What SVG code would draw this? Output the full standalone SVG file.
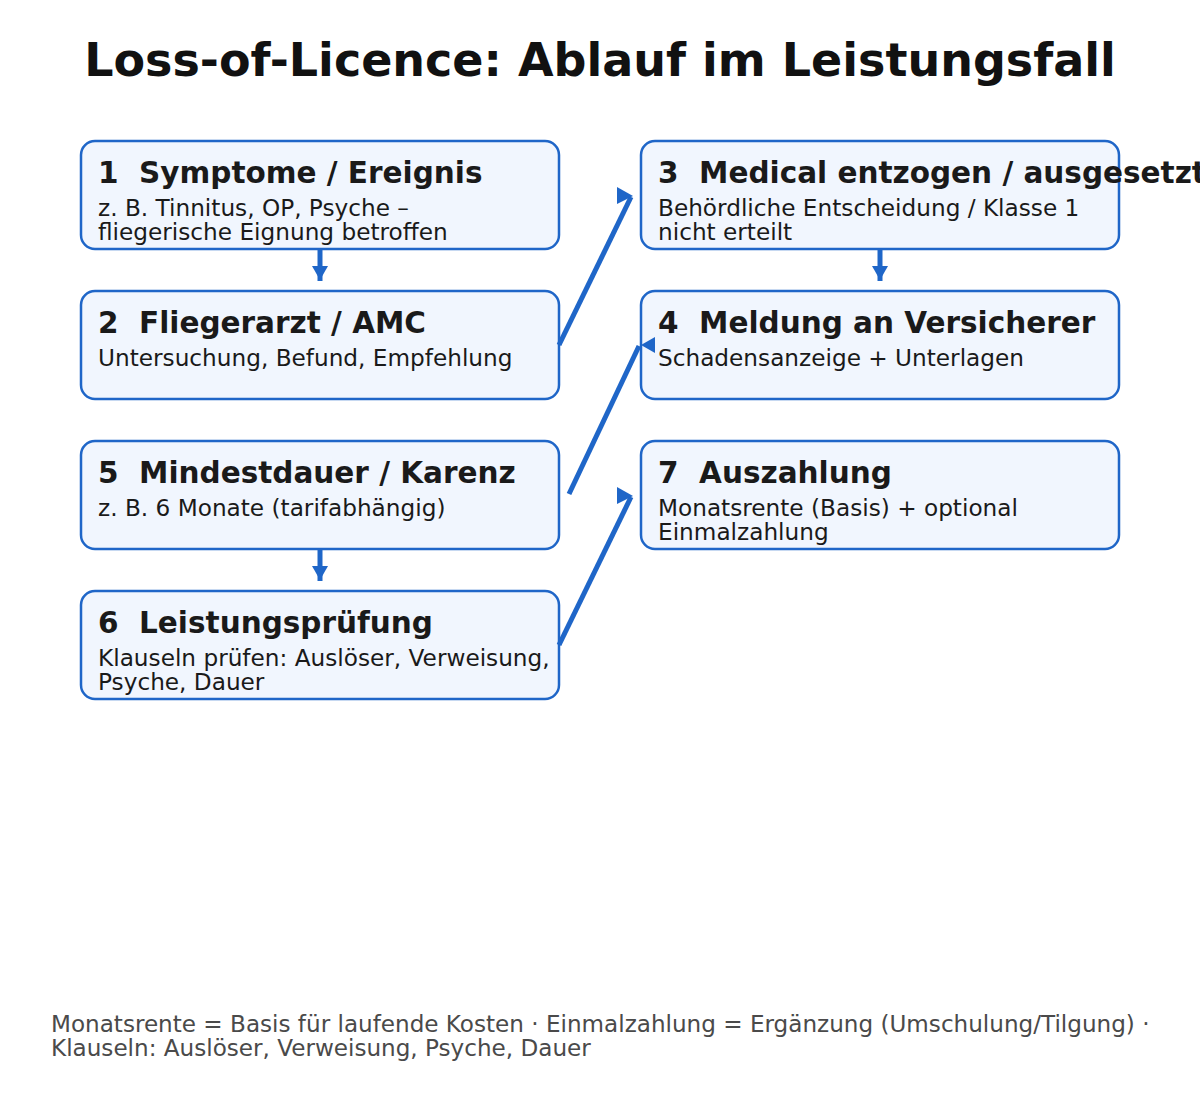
<svg xmlns="http://www.w3.org/2000/svg" width="1200" height="1100" viewBox="0 0 1200 1100">
<style>
.box{fill:#f1f6fe;stroke:#1f66c8;stroke-width:2.5}
.h{font-family:"DejaVu Sans",sans-serif;font-weight:bold;font-size:29.5px;fill:#1a1a1a}
.b{font-family:"DejaVu Sans",sans-serif;font-size:23.2px;fill:#1a1a1a}
.t{font-family:"DejaVu Sans",sans-serif;font-weight:bold;font-size:46px;fill:#111}
.f{font-family:"DejaVu Sans",sans-serif;font-size:23.1px;fill:#4a4a4a}
.ln{stroke:#1f66c8;stroke-width:5;fill:none}
.ah{fill:#1f66c8}
</style>
<rect width="1200" height="1100" fill="#ffffff"/>
<text class="t" x="600" y="76" text-anchor="middle">Loss-of-Licence: Ablauf im Leistungsfall</text>
<g id="node1">
<rect class="box" x="81" y="141" width="478" height="108" rx="14"/>
<text class="h" x="98" y="183" xml:space="preserve">1  Symptome / Ereignis</text>
<text class="b" x="98" y="216">z. B. Tinnitus, OP, Psyche –</text>
<text class="b" x="98" y="240">fliegerische Eignung betroffen</text>
</g>
<g id="node2">
<rect class="box" x="81" y="291" width="478" height="108" rx="14"/>
<text class="h" x="98" y="333" xml:space="preserve">2  Fliegerarzt / AMC</text>
<text class="b" x="98" y="366">Untersuchung, Befund, Empfehlung</text>
</g>
<g id="node3">
<rect class="box" x="641" y="141" width="478" height="108" rx="14"/>
<text class="h" x="658" y="183" xml:space="preserve">3  Medical entzogen / ausgesetzt</text>
<text class="b" x="658" y="216">Behördliche Entscheidung / Klasse 1</text>
<text class="b" x="658" y="240">nicht erteilt</text>
</g>
<g id="node4">
<rect class="box" x="641" y="291" width="478" height="108" rx="14"/>
<text class="h" x="658" y="333" xml:space="preserve">4  Meldung an Versicherer</text>
<text class="b" x="658" y="366">Schadensanzeige + Unterlagen</text>
</g>
<g id="node5">
<rect class="box" x="81" y="441" width="478" height="108" rx="14"/>
<text class="h" x="98" y="483" xml:space="preserve">5  Mindestdauer / Karenz</text>
<text class="b" x="98" y="516">z. B. 6 Monate (tarifabhängig)</text>
</g>
<g id="node6">
<rect class="box" x="81" y="591" width="478" height="108" rx="14"/>
<text class="h" x="98" y="633" xml:space="preserve">6  Leistungsprüfung</text>
<text class="b" x="98" y="666">Klauseln prüfen: Auslöser, Verweisung,</text>
<text class="b" x="98" y="690">Psyche, Dauer</text>
</g>
<g id="node7">
<rect class="box" x="641" y="441" width="478" height="108" rx="14"/>
<text class="h" x="658" y="483" xml:space="preserve">7  Auszahlung</text>
<text class="b" x="658" y="516">Monatsrente (Basis) + optional</text>
<text class="b" x="658" y="540">Einmalzahlung</text>
</g>
<g id="connectors">
<line class="ln" x1="320" y1="250" x2="320" y2="281"/>
<polygon class="ah" points="312,266 328,266 320,280"/>
<line class="ln" x1="880" y1="250" x2="880" y2="281"/>
<polygon class="ah" points="872,266 888,266 880,280"/>
<line class="ln" x1="320" y1="550" x2="320" y2="581"/>
<polygon class="ah" points="312,566 328,566 320,580"/>
<line class="ln" x1="559" y1="345" x2="631" y2="197"/>
<polygon class="ah" points="617,187 633,196 617,204"/>
<line class="ln" x1="569" y1="494" x2="639" y2="346"/>
<polygon class="ah" points="641,345 655,337 655,353"/>
<line class="ln" x1="559" y1="645" x2="631" y2="497"/>
<polygon class="ah" points="617,487 633,496 617,504"/>
</g>
<text class="f" x="51" y="1032">Monatsrente = Basis für laufende Kosten · Einmalzahlung = Ergänzung (Umschulung/Tilgung) ·</text>
<text class="f" x="51" y="1056">Klauseln: Auslöser, Verweisung, Psyche, Dauer</text>
</svg>
